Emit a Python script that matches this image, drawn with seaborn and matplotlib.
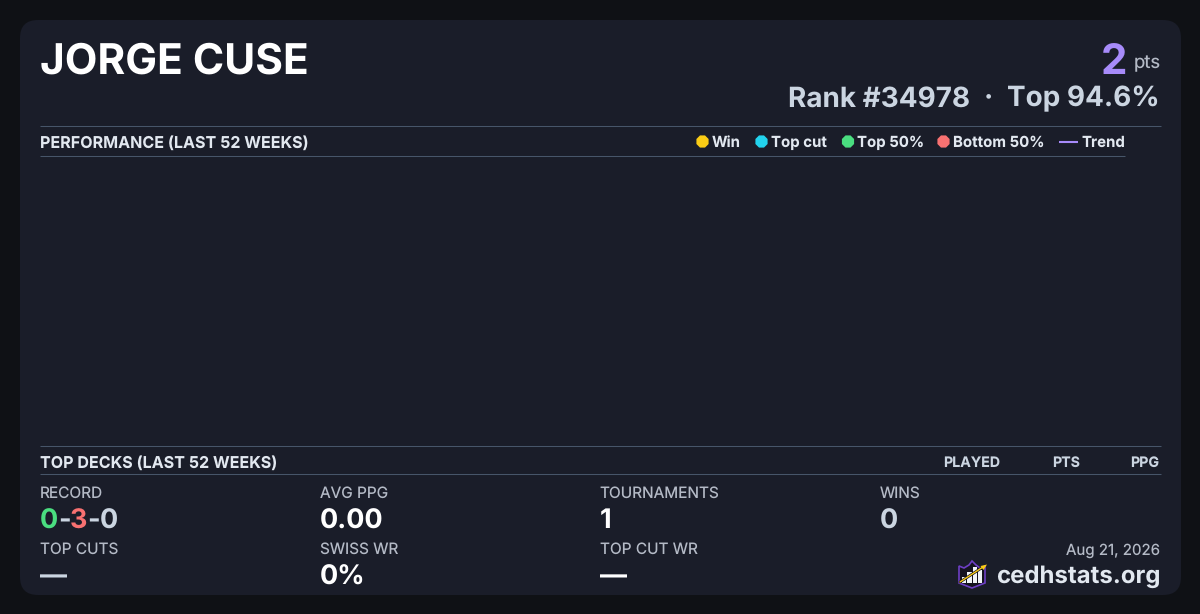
import matplotlib
matplotlib.use('Agg')
import matplotlib.pyplot as plt
from matplotlib.patches import FancyBboxPatch, Polygon, Rectangle
import pandas as pd
import seaborn as sns

player = 'JORGE CUSE'
points = '2'
rank_left = 'Rank #34978'
rank_sep = '·'
rank_right = 'Top 94.6%'
legend_labels = ['Win', 'Top cut', 'Top 50%', 'Bottom 50%']
legend_colors = ['#facc15', '#22d3ee', '#4ade80', '#f87171']
deck_cols = ['PLAYED', 'PTS', 'PPG']
record = ['0', '-', '3', '-', '0']
record_colors = ['#4ade80', '#cbd5e1', '#f87171', '#cbd5e1', '#cbd5e1']
stat_labels = ['AVG PPG', 'TOURNAMENTS', 'WINS', 'TOP CUTS', 'SWISS WR', 'TOP CUT WR']
stat_values = ['0.00', '1', '0', '—', '0%', '—']
stat_colors = ['#ffffff', '#ffffff', '#cbd5e1', '#cbd5e1', '#ffffff', '#ffffff']
stat_x = [320, 599.6, 880, 40, 320, 599.6]
stat_row = [0, 0, 0, 1, 1, 1]
footer_date = 'Aug 21, 2026'
site = 'cedhstats.org'

sns.set_theme(style='dark')
plt.rcParams['font.family'] = ['Inter', 'DejaVu Sans']
plt.rcParams['text.hinting'] = 'none'

BG = '#0f1115'
CARD = '#1a1d29'
RULE = '#475569'
LIGHT = '#e2e8f0'
MUTED = '#b4bac6'
PX = 0.72  # points per pixel at dpi 100


def txt(x, y, s, size, color=LIGHT, weight='normal', ha='left'):
    return ax.text(x, y, s, fontsize=size * PX, color=color, fontweight=weight,
                   ha=ha, va='baseline')


fig = plt.figure(figsize=(12, 6.14), dpi=100, facecolor=BG)
ax = fig.add_axes([0, 0, 1, 1])
ax.set_xlim(0, 1200)
ax.set_ylim(614, 0)
ax.axis('off')

ax.add_patch(FancyBboxPatch((38, 38), 1125, 539, boxstyle='round,pad=18,rounding_size=18',
                            fc=CARD, ec='none', zorder=0))

# header
txt(40, 73.6, player, 42.4, '#ffffff', 'bold')
txt(1160.5, 68, 'pts', 18.5, MUTED, ha='right')
txt(1127, 73.6, points, 42, '#a78bfa', 'bold', ha='right')
txt(970, 106.5, rank_left, 27.9, '#cbd5e1', 'bold', ha='right')
txt(988, 106.5, rank_sep, 27.9, '#cbd5e1', 'bold', ha='center')
txt(1160, 106.5, rank_right, 27.9, '#cbd5e1', 'bold', ha='right')

# rules
for y, x_end in [(126, 1160.5), (156, 1124.5), (446, 1160.5), (474, 1160.5)]:
    ax.plot([40, x_end], [y, y], color=RULE, lw=0.75, zorder=1, solid_capstyle='butt')

# performance header + legend
txt(40, 147.5, 'PERFORMANCE (LAST 52 WEEKS)', 16.1, LIGHT, 'bold')
legend_df = pd.DataFrame({'x': [702.5, 761.5, 848, 943.5], 'y': [141.5] * 4, 'label': legend_labels})
sns.scatterplot(data=legend_df, x='x', y='y', hue='label', palette=legend_colors, s=90,
                marker='8', linewidth=0, legend=False, ax=ax, zorder=3)
ax.set_xlim(0, 1200)
ax.set_ylim(614, 0)
for lx, label in zip([712.2, 771, 857, 953], legend_labels):
    txt(lx, 147, label, 15, LIGHT, 'bold')
ax.plot([1059, 1078], [141.5, 141.5], color='#a78bfa', lw=1.5, solid_capstyle='butt')
txt(1081, 147, 'Trend', 15, LIGHT, 'bold')

# top decks header
txt(40, 468, 'TOP DECKS (LAST 52 WEEKS)', 16.1, LIGHT, 'bold')
for rx, col in zip([1000, 1080.5, 1159.6], deck_cols):
    txt(rx, 467, col, 14.2, '#cbd5e1', 'bold', ha='right')

# stats
rows = [(497.6, 528.5), (553.6, 584.5)]
txt(40, 497.6, 'RECORD', 15.4, MUTED)
x = 40
fig.canvas.draw()
for part, c in zip(record, record_colors):
    t = txt(x, 528.5, part, 27, c, 'bold')
    x = t.get_window_extent().x1 - 0.4
for sx, r, lab, val, c in zip(stat_x, stat_row, stat_labels, stat_values, stat_colors):
    txt(sx, rows[r][0], lab, 15.4, MUTED)
    txt(sx, rows[r][1], val, 27, c, 'bold')

# footer
txt(1160, 555, footer_date, 15.1, MUTED, ha='right')
txt(1160.5, 583, site, 24, LIGHT, 'bold', ha='right')

# logo
ax.add_patch(Polygon([(959, 566), (964, 568), (969, 565), (972, 561), (976, 565), (980, 568),
                      (985, 566), (985, 583), (972, 588), (959, 583)],
                     closed=True, fc='#14131f', ec='#6d3fc4', lw=1.2, zorder=2))
for bx, by, bw in [(962, 577, 4), (967, 572, 4.5), (973, 567, 4), (978, 570, 4)]:
    ax.add_patch(Rectangle((bx, by), bw, 583 - by, fc='#f1f5f9', ec='none', zorder=3))
ax.plot([960, 983], [582, 567], color='#14131f', lw=2, zorder=4)
ax.plot([960, 983], [582, 567], color='#facc15', lw=1, zorder=5)
ax.add_patch(Polygon([(987, 564.5), (980.5, 566), (983.5, 570)], closed=True,
                     fc='#facc15', ec='none', zorder=5))

fig.savefig('out.png', dpi=100, facecolor=BG)
